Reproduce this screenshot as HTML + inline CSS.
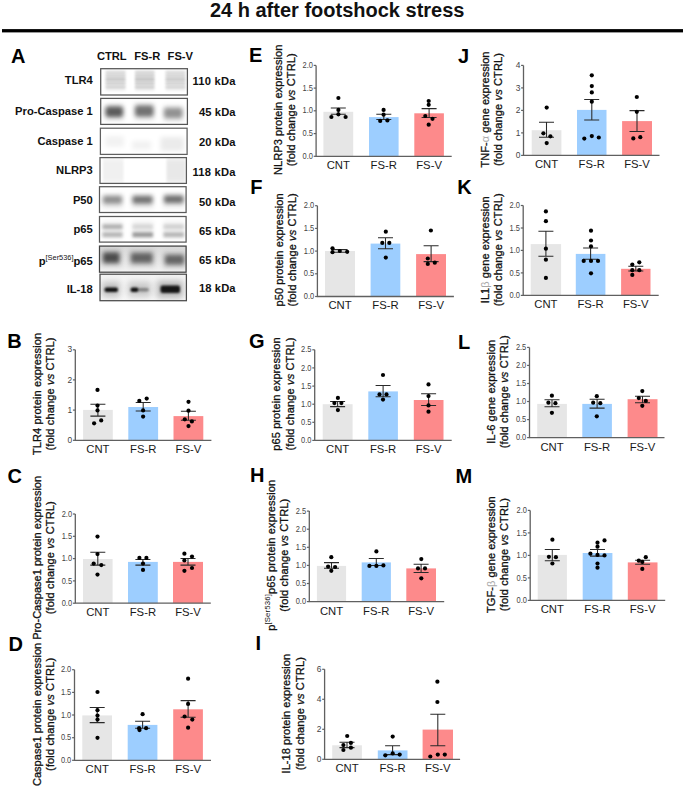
<!DOCTYPE html><html><head><meta charset="utf-8"><style>html,body{margin:0;padding:0;background:#fff;}svg{display:block;}</style></head><body>
<svg width="685" height="788" viewBox="0 0 685 788" font-family="'Liberation Sans', sans-serif">
<rect width="685" height="788" fill="#fff"/>
<text x="337.2" y="17" font-size="20" font-weight="bold" fill="#111" text-anchor="middle">24 h after footshock stress</text>
<rect x="2" y="29.1" width="681" height="3.3" fill="#000"/>
<text x="10.9" y="62.6" font-size="20" font-weight="bold" fill="#000">A</text>
<text x="7.3" y="348.0" font-size="20" font-weight="bold" fill="#000">B</text>
<text x="7.4" y="482.6" font-size="20" font-weight="bold" fill="#000">C</text>
<text x="8.4" y="650.6" font-size="20" font-weight="bold" fill="#000">D</text>
<text x="249.0" y="61.6" font-size="20" font-weight="bold" fill="#000">E</text>
<text x="250.2" y="194.0" font-size="20" font-weight="bold" fill="#000">F</text>
<text x="249.1" y="347.9" font-size="20" font-weight="bold" fill="#000">G</text>
<text x="249.9" y="482.1" font-size="20" font-weight="bold" fill="#000">H</text>
<text x="255.4" y="650.1" font-size="20" font-weight="bold" fill="#000">I</text>
<text x="458.0" y="62.7" font-size="20" font-weight="bold" fill="#000">J</text>
<text x="457.2" y="193.6" font-size="20" font-weight="bold" fill="#000">K</text>
<text x="458.0" y="348.7" font-size="20" font-weight="bold" fill="#000">L</text>
<text x="455.6" y="482.9" font-size="20" font-weight="bold" fill="#000">M</text>
<defs><filter id="b1" x="-50%" y="-50%" width="200%" height="200%"><feGaussianBlur stdDeviation="1.6"/></filter><filter id="b15" x="-50%" y="-50%" width="200%" height="200%"><feGaussianBlur stdDeviation="1.9"/></filter><filter id="b2" x="-50%" y="-50%" width="200%" height="200%"><feGaussianBlur stdDeviation="2.4"/></filter><filter id="b3" x="-50%" y="-50%" width="200%" height="200%"><feGaussianBlur stdDeviation="0.9"/></filter><filter id="b4" x="-50%" y="-50%" width="200%" height="200%"><feGaussianBlur stdDeviation="3"/></filter><filter id="bx" x="-50%" y="-50%" width="200%" height="200%"><feGaussianBlur stdDeviation="1.0 3"/></filter><linearGradient id="gser" x1="0" y1="0" x2="0" y2="1"><stop offset="0" stop-color="#d9d9d9"/><stop offset="0.55" stop-color="#e6e6e6"/><stop offset="1" stop-color="#f4f4f4"/></linearGradient><linearGradient id="gil" x1="0" y1="0" x2="0" y2="1"><stop offset="0" stop-color="#f3f3f3"/><stop offset="1" stop-color="#f8f8f8"/></linearGradient></defs>
<text x="111.8" y="59.8" font-size="11.2" font-weight="bold" fill="#111" text-anchor="middle">CTRL</text>
<text x="147.2" y="59.8" font-size="11.2" font-weight="bold" fill="#111" text-anchor="middle">FS-R</text>
<text x="180.3" y="59.8" font-size="11.2" font-weight="bold" fill="#111" text-anchor="middle">FS-V</text>
<svg x="100.1" y="68.1" width="87.9" height="27.5" viewBox="100.1 68.1 87.9 27.5" overflow="hidden"><rect x="105.5" y="70.5" width="20.0" height="20.0" rx="0" fill="#000" opacity="0.09" filter="url(#b1)"/><rect x="105.5" y="71.4" width="20.0" height="2.2" rx="0" fill="#000" opacity="0.08" filter="url(#b3)"/><rect x="105.5" y="74.9" width="20.0" height="2.2" rx="0" fill="#000" opacity="0.11" filter="url(#b3)"/><rect x="105.5" y="78.4" width="20.0" height="2.2" rx="0" fill="#000" opacity="0.18" filter="url(#b3)"/><rect x="105.5" y="82.1" width="20.0" height="2.2" rx="0" fill="#000" opacity="0.12" filter="url(#b3)"/><rect x="105.5" y="85.9" width="20.0" height="2.2" rx="0" fill="#000" opacity="0.1" filter="url(#b3)"/><rect x="135.0" y="70.5" width="19.5" height="20.0" rx="0" fill="#000" opacity="0.099" filter="url(#b1)"/><rect x="135.0" y="71.4" width="19.5" height="2.2" rx="0" fill="#000" opacity="0.08800000000000001" filter="url(#b3)"/><rect x="135.0" y="74.9" width="19.5" height="2.2" rx="0" fill="#000" opacity="0.12100000000000001" filter="url(#b3)"/><rect x="135.0" y="78.4" width="19.5" height="2.2" rx="0" fill="#000" opacity="0.198" filter="url(#b3)"/><rect x="135.0" y="82.1" width="19.5" height="2.2" rx="0" fill="#000" opacity="0.132" filter="url(#b3)"/><rect x="135.0" y="85.9" width="19.5" height="2.2" rx="0" fill="#000" opacity="0.11000000000000001" filter="url(#b3)"/><rect x="165.5" y="70.5" width="20.0" height="20.0" rx="0" fill="#000" opacity="0.08549999999999999" filter="url(#b1)"/><rect x="165.5" y="71.4" width="20.0" height="2.2" rx="0" fill="#000" opacity="0.076" filter="url(#b3)"/><rect x="165.5" y="74.9" width="20.0" height="2.2" rx="0" fill="#000" opacity="0.1045" filter="url(#b3)"/><rect x="165.5" y="78.4" width="20.0" height="2.2" rx="0" fill="#000" opacity="0.17099999999999999" filter="url(#b3)"/><rect x="165.5" y="82.1" width="20.0" height="2.2" rx="0" fill="#000" opacity="0.11399999999999999" filter="url(#b3)"/><rect x="165.5" y="85.9" width="20.0" height="2.2" rx="0" fill="#000" opacity="0.095" filter="url(#b3)"/></svg>
<rect x="100.7" y="68.7" width="86.7" height="26.3" fill="none" stroke="#555" stroke-width="1.25"/>
<text x="92.8" y="84.1" font-size="11.2" font-weight="bold" fill="#111" text-anchor="end">TLR4</text>
<text x="235.6" y="85.4" font-size="11.2" font-weight="bold" fill="#111" text-anchor="end" textLength="43.1" lengthAdjust="spacing">110 kDa</text>
<svg x="100.1" y="97.8" width="87.9" height="27.200000000000003" viewBox="100.1 97.8 87.9 27.200000000000003" overflow="hidden"><rect x="104.5" y="104.0" width="19.5" height="16.5" rx="0" fill="#000" opacity="0.1" filter="url(#b2)"/><rect x="105.5" y="106.5" width="17.5" height="10.5" rx="3" fill="#000" opacity="0.6" filter="url(#b15)"/><rect x="134.0" y="103.0" width="20.5" height="17.0" rx="0" fill="#000" opacity="0.1" filter="url(#b2)"/><rect x="135.0" y="105.5" width="18.5" height="11.0" rx="3" fill="#000" opacity="0.5" filter="url(#b15)"/><rect x="163.0" y="105.5" width="20.5" height="16.0" rx="0" fill="#000" opacity="0.1" filter="url(#b2)"/><rect x="164.0" y="108.0" width="18.5" height="10.0" rx="3" fill="#000" opacity="0.36" filter="url(#b15)"/></svg>
<rect x="100.7" y="98.4" width="86.7" height="26.0" fill="none" stroke="#555" stroke-width="1.25"/>
<text x="92.8" y="114.6" font-size="11.2" font-weight="bold" fill="#111" text-anchor="end">Pro-Caspase 1</text>
<text x="235.6" y="115.9" font-size="11.2" font-weight="bold" fill="#111" text-anchor="end" textLength="36.7" lengthAdjust="spacing">45 kDa</text>
<svg x="99.8" y="127.6" width="87.89999999999999" height="27.400000000000006" viewBox="99.8 127.6 87.89999999999999 27.400000000000006" overflow="hidden"><rect x="105.0" y="136.0" width="19.0" height="11.0" rx="0" fill="#000" opacity="0.05" filter="url(#b2)"/><rect x="132.0" y="141.0" width="19.0" height="8.5" rx="0" fill="#000" opacity="0.055" filter="url(#b2)"/><rect x="160.5" y="137.0" width="23.5" height="14.0" rx="0" fill="#000" opacity="0.08" filter="url(#b2)"/></svg>
<rect x="100.4" y="128.2" width="86.7" height="26.2" fill="none" stroke="#606060" stroke-width="1.25"/>
<text x="92.8" y="144.8" font-size="11.2" font-weight="bold" fill="#111" text-anchor="end">Caspase 1</text>
<text x="235.6" y="145.9" font-size="11.2" font-weight="bold" fill="#111" text-anchor="end" textLength="36.7" lengthAdjust="spacing">20 kDa</text>
<svg x="99.4" y="157.0" width="87.6" height="27.0" viewBox="99.4 157.0 87.6 27.0" overflow="hidden"><rect x="103.0" y="158.0" width="20.5" height="25.0" rx="0" fill="#000" opacity="0.06" filter="url(#bx)"/><rect x="166.5" y="158.0" width="19.0" height="25.0" rx="0" fill="#000" opacity="0.09" filter="url(#bx)"/></svg>
<rect x="100.0" y="157.6" width="86.4" height="25.8" fill="none" stroke="#5a5a5a" stroke-width="1.25"/>
<text x="92.8" y="174.0" font-size="11.2" font-weight="bold" fill="#111" text-anchor="end">NLRP3</text>
<text x="235.6" y="175.9" font-size="11.2" font-weight="bold" fill="#111" text-anchor="end" textLength="43.1" lengthAdjust="spacing">118 kDa</text>
<svg x="98.9" y="186.1" width="87.79999999999998" height="27.0" viewBox="98.9 186.1 87.79999999999998 27.0" overflow="hidden"><rect x="102.0" y="194.0" width="21.0" height="14.0" rx="0" fill="#000" opacity="0.1" filter="url(#b2)"/><rect x="103.0" y="196.0" width="19.0" height="7.5" rx="2" fill="#000" opacity="0.38" filter="url(#b15)"/><rect x="131.5" y="194.0" width="22.0" height="14.0" rx="0" fill="#000" opacity="0.1" filter="url(#b2)"/><rect x="132.5" y="196.0" width="20.0" height="7.5" rx="2" fill="#000" opacity="0.5" filter="url(#b15)"/><rect x="163.0" y="193.5" width="21.5" height="14.0" rx="0" fill="#000" opacity="0.1" filter="url(#b2)"/><rect x="164.0" y="195.5" width="19.5" height="7.5" rx="2" fill="#000" opacity="0.52" filter="url(#b15)"/></svg>
<rect x="99.5" y="186.7" width="86.6" height="25.8" fill="none" stroke="#5a5a5a" stroke-width="1.25"/>
<text x="92.8" y="203.8" font-size="11.2" font-weight="bold" fill="#111" text-anchor="end">P50</text>
<text x="235.6" y="206.4" font-size="11.2" font-weight="bold" fill="#111" text-anchor="end" textLength="36.7" lengthAdjust="spacing">50 kDa</text>
<svg x="98.9" y="215.9" width="87.79999999999998" height="26.799999999999983" viewBox="98.9 215.9 87.79999999999998 26.799999999999983" overflow="hidden"><rect x="102.0" y="221.0" width="21.0" height="18.0" rx="0" fill="#000" opacity="0.06" filter="url(#b2)"/><rect x="102.5" y="224.3" width="20.0" height="4.8" rx="0" fill="#000" opacity="0.26" filter="url(#b1)"/><rect x="102.5" y="232.3" width="20.0" height="4.8" rx="0" fill="#000" opacity="0.24" filter="url(#b1)"/><rect x="132.0" y="221.0" width="21.5" height="18.0" rx="0" fill="#000" opacity="0.06" filter="url(#b2)"/><rect x="132.5" y="224.3" width="20.5" height="4.8" rx="0" fill="#000" opacity="0.1" filter="url(#b1)"/><rect x="132.5" y="232.3" width="20.5" height="4.8" rx="0" fill="#000" opacity="0.36" filter="url(#b1)"/><rect x="163.0" y="221.0" width="21.5" height="18.0" rx="0" fill="#000" opacity="0.06" filter="url(#b2)"/><rect x="163.5" y="224.3" width="20.5" height="4.8" rx="0" fill="#000" opacity="0.12" filter="url(#b1)"/><rect x="163.5" y="232.3" width="20.5" height="4.8" rx="0" fill="#000" opacity="0.24" filter="url(#b1)"/></svg>
<rect x="99.5" y="216.5" width="86.6" height="25.6" fill="none" stroke="#5a5a5a" stroke-width="1.25"/>
<text x="92.8" y="233.2" font-size="11.2" font-weight="bold" fill="#111" text-anchor="end">p65</text>
<text x="235.6" y="235.1" font-size="11.2" font-weight="bold" fill="#111" text-anchor="end" textLength="36.7" lengthAdjust="spacing">65 kDa</text>
<svg x="98.9" y="245.5" width="87.79999999999998" height="27.30000000000001" viewBox="98.9 245.5 87.79999999999998 27.30000000000001" overflow="hidden"><rect x="98.9" y="245.5" width="87.79999999999998" height="27.30000000000001" fill="url(#gser)"/><rect x="101.0" y="249.5" width="20.5" height="17.5" rx="0" fill="#000" opacity="0.12" filter="url(#b2)"/><rect x="103.0" y="252.5" width="16.5" height="10.5" rx="2" fill="#000" opacity="0.62" filter="url(#b15)"/><rect x="129.0" y="250.0" width="25.5" height="17.0" rx="0" fill="#000" opacity="0.12" filter="url(#b2)"/><rect x="131.0" y="253.0" width="21.5" height="10.0" rx="2" fill="#000" opacity="0.5" filter="url(#b15)"/><rect x="163.0" y="252.0" width="23.0" height="16.5" rx="0" fill="#000" opacity="0.12" filter="url(#b2)"/><rect x="165.0" y="255.0" width="19.0" height="9.5" rx="2" fill="#000" opacity="0.5" filter="url(#b15)"/></svg>
<rect x="99.5" y="246.1" width="86.6" height="26.1" fill="none" stroke="#444" stroke-width="1.25"/>
<text x="92.8" y="264.7" font-size="11.2" font-weight="bold" fill="#111" text-anchor="end">p<tspan font-size="7.4" font-weight="normal" dy="-5">[Ser536]</tspan><tspan dy="5">p65</tspan></text>
<text x="235.6" y="263.6" font-size="11.2" font-weight="bold" fill="#111" text-anchor="end" textLength="36.7" lengthAdjust="spacing">65 kDa</text>
<svg x="99.4" y="273.6" width="87.6" height="27.69999999999999" viewBox="99.4 273.6 87.6 27.69999999999999" overflow="hidden"><rect x="99.4" y="273.6" width="87.6" height="27.69999999999999" fill="url(#gil)"/><rect x="102.0" y="282.0" width="18.0" height="15.0" rx="0" fill="#000" opacity="0.22" filter="url(#b4)"/><rect x="128.0" y="282.0" width="23.0" height="15.0" rx="0" fill="#000" opacity="0.18" filter="url(#b4)"/><rect x="157.0" y="281.0" width="26.0" height="17.0" rx="0" fill="#000" opacity="0.26" filter="url(#b4)"/><rect x="104.5" y="287.4" width="13.5" height="4.6" rx="2" fill="#000" opacity="0.92" filter="url(#b3)"/><rect x="130.5" y="287.4" width="8.0" height="4.6" rx="2" fill="#000" opacity="0.92" filter="url(#b3)"/><rect x="138.0" y="288.0" width="11.0" height="3.5" rx="2" fill="#000" opacity="0.35" filter="url(#b3)"/><rect x="160.5" y="285.5" width="19.5" height="7.5" rx="2" fill="#000" opacity="0.88" filter="url(#b3)"/></svg>
<rect x="100.0" y="274.2" width="86.4" height="26.5" fill="none" stroke="#4a4a4a" stroke-width="1.25"/>
<text x="92.8" y="293.1" font-size="11.2" font-weight="bold" fill="#111" text-anchor="end">IL-18</text>
<text x="235.6" y="292.2" font-size="11.2" font-weight="bold" fill="#111" text-anchor="end" textLength="36.7" lengthAdjust="spacing">18 kDa</text>
<rect x="83.1" y="409.9" width="29.7" height="30.4" fill="#e6e6e6"/>
<rect x="128.3" y="407.0" width="29.8" height="33.3" fill="#9dceff"/>
<rect x="173.5" y="416.1" width="29.8" height="24.2" fill="#fd8a8b"/>
<path d="M75.3,349.8V440.3H211.4" fill="none" stroke="#606060" stroke-width="1.3"/>
<path d="M72.9,440.3H75.3" stroke="#606060" stroke-width="1.2"/>
<text x="72.1" y="442.9" font-size="8.4" fill="#444" text-anchor="end">0</text>
<path d="M72.9,410.1H75.3" stroke="#606060" stroke-width="1.2"/>
<text x="72.1" y="412.7" font-size="8.4" fill="#444" text-anchor="end">1</text>
<path d="M72.9,379.9H75.3" stroke="#606060" stroke-width="1.2"/>
<text x="72.1" y="382.5" font-size="8.4" fill="#444" text-anchor="end">2</text>
<path d="M72.9,349.8H75.3" stroke="#606060" stroke-width="1.2"/>
<text x="72.1" y="352.4" font-size="8.4" fill="#444" text-anchor="end">3</text>
<path d="M90.4,404.3H105.4M97.9,404.3V416.1M90.4,416.1H105.4" stroke="#2a2a2a" stroke-width="1.05" fill="none"/>
<circle cx="97.5" cy="389.9" r="2.1" fill="#000"/>
<circle cx="97.5" cy="405.6" r="2.1" fill="#000"/>
<circle cx="97.5" cy="410.4" r="2.1" fill="#000"/>
<circle cx="101.2" cy="420.4" r="2.1" fill="#000"/>
<circle cx="94.1" cy="423.3" r="2.1" fill="#000"/>
<path d="M135.7,402.4H150.7M143.2,402.4V410.9M135.7,410.9H150.7" stroke="#2a2a2a" stroke-width="1.05" fill="none"/>
<circle cx="139.3" cy="400.9" r="2.1" fill="#000"/>
<circle cx="146.7" cy="398.6" r="2.1" fill="#000"/>
<circle cx="143.1" cy="410.4" r="2.1" fill="#000"/>
<circle cx="143.1" cy="416.6" r="2.1" fill="#000"/>
<path d="M180.9,411.3H195.9M188.4,411.3V420.2M180.9,420.2H195.9" stroke="#2a2a2a" stroke-width="1.05" fill="none"/>
<circle cx="188.5" cy="401.8" r="2.1" fill="#000"/>
<circle cx="188.5" cy="410.7" r="2.1" fill="#000"/>
<circle cx="184.8" cy="419.3" r="2.1" fill="#000"/>
<circle cx="191.9" cy="421.4" r="2.1" fill="#000"/>
<circle cx="188.5" cy="426.1" r="2.1" fill="#000"/>
<text x="97.9" y="453.2" font-size="11.3" fill="#1a1a1a" text-anchor="middle">CNT</text>
<text x="143.2" y="453.2" font-size="11.3" fill="#1a1a1a" text-anchor="middle">FS-R</text>
<text x="188.4" y="453.2" font-size="11.3" fill="#1a1a1a" text-anchor="middle">FS-V</text>
<text transform="translate(40.7,394.0) rotate(-90)" font-size="11" fill="#111" stroke="#111" stroke-width="0.3" text-anchor="middle" textLength="122.2" lengthAdjust="spacing">TLR4 protein expression</text>
<text transform="translate(54.2,394.0) rotate(-90)" font-size="11" fill="#111" stroke="#111" stroke-width="0.3" text-anchor="middle" textLength="113.1" lengthAdjust="spacing">(fold change <tspan font-style="italic">vs</tspan> CTRL)</text>
<rect x="83.0" y="559.0" width="29.6" height="44.2" fill="#e6e6e6"/>
<rect x="128.0" y="561.9" width="29.8" height="41.3" fill="#9dceff"/>
<rect x="173.0" y="561.9" width="30.0" height="41.3" fill="#fd8a8b"/>
<path d="M75.3,514.0V603.2H210.8" fill="none" stroke="#606060" stroke-width="1.3"/>
<path d="M72.9,603.2H75.3" stroke="#606060" stroke-width="1.2"/>
<text x="72.1" y="605.8" font-size="8.4" fill="#444" text-anchor="end" textLength="10.4" lengthAdjust="spacingAndGlyphs">0.0</text>
<path d="M72.9,580.9H75.3" stroke="#606060" stroke-width="1.2"/>
<text x="72.1" y="583.5" font-size="8.4" fill="#444" text-anchor="end" textLength="10.4" lengthAdjust="spacingAndGlyphs">0.5</text>
<path d="M72.9,558.6H75.3" stroke="#606060" stroke-width="1.2"/>
<text x="72.1" y="561.2" font-size="8.4" fill="#444" text-anchor="end" textLength="10.4" lengthAdjust="spacingAndGlyphs">1.0</text>
<path d="M72.9,536.3H75.3" stroke="#606060" stroke-width="1.2"/>
<text x="72.1" y="538.9" font-size="8.4" fill="#444" text-anchor="end" textLength="10.4" lengthAdjust="spacingAndGlyphs">1.5</text>
<path d="M72.9,514.0H75.3" stroke="#606060" stroke-width="1.2"/>
<text x="72.1" y="516.6" font-size="8.4" fill="#444" text-anchor="end" textLength="10.4" lengthAdjust="spacingAndGlyphs">2.0</text>
<path d="M90.3,552.2H105.3M97.8,552.2V565.1M90.3,565.1H105.3" stroke="#2a2a2a" stroke-width="1.05" fill="none"/>
<circle cx="97.5" cy="536.6" r="2.1" fill="#000"/>
<circle cx="97.5" cy="554.1" r="2.1" fill="#000"/>
<circle cx="93.7" cy="563.6" r="2.1" fill="#000"/>
<circle cx="101.3" cy="565.1" r="2.1" fill="#000"/>
<circle cx="97.5" cy="574.6" r="2.1" fill="#000"/>
<path d="M135.4,559.4H150.4M142.9,559.4V565.1M135.4,565.1H150.4" stroke="#2a2a2a" stroke-width="1.05" fill="none"/>
<circle cx="139.4" cy="557.9" r="2.1" fill="#000"/>
<circle cx="146.4" cy="557.9" r="2.1" fill="#000"/>
<circle cx="143.0" cy="563.6" r="2.1" fill="#000"/>
<circle cx="143.0" cy="569.9" r="2.1" fill="#000"/>
<path d="M180.5,558.5H195.5M188.0,558.5V565.1M180.5,565.1H195.5" stroke="#2a2a2a" stroke-width="1.05" fill="none"/>
<circle cx="184.4" cy="553.7" r="2.1" fill="#000"/>
<circle cx="192.0" cy="556.6" r="2.1" fill="#000"/>
<circle cx="184.4" cy="560.4" r="2.1" fill="#000"/>
<circle cx="192.0" cy="568.0" r="2.1" fill="#000"/>
<circle cx="184.4" cy="570.8" r="2.1" fill="#000"/>
<text x="97.8" y="616.1" font-size="11.3" fill="#1a1a1a" text-anchor="middle">CNT</text>
<text x="142.9" y="616.1" font-size="11.3" fill="#1a1a1a" text-anchor="middle">FS-R</text>
<text x="188.0" y="616.1" font-size="11.3" fill="#1a1a1a" text-anchor="middle">FS-V</text>
<text transform="translate(40.7,557.8) rotate(-90)" font-size="11" fill="#111" stroke="#111" stroke-width="0.3" text-anchor="middle" textLength="163.9" lengthAdjust="spacing">Pro-Caspase1 protein expression</text>
<text transform="translate(54.2,557.8) rotate(-90)" font-size="11" fill="#111" stroke="#111" stroke-width="0.3" text-anchor="middle" textLength="113.1" lengthAdjust="spacing">(fold change <tspan font-style="italic">vs</tspan> CTRL)</text>
<rect x="82.3" y="715.4" width="29.7" height="44.9" fill="#e6e6e6"/>
<rect x="127.7" y="724.9" width="29.7" height="35.4" fill="#9dceff"/>
<rect x="173.2" y="709.3" width="29.7" height="51.0" fill="#fd8a8b"/>
<path d="M74.5,669.7V760.3H211.0" fill="none" stroke="#606060" stroke-width="1.3"/>
<path d="M72.1,760.3H74.5" stroke="#606060" stroke-width="1.2"/>
<text x="71.3" y="762.9" font-size="8.4" fill="#444" text-anchor="end" textLength="10.4" lengthAdjust="spacingAndGlyphs">0.0</text>
<path d="M72.1,737.7H74.5" stroke="#606060" stroke-width="1.2"/>
<text x="71.3" y="740.3" font-size="8.4" fill="#444" text-anchor="end" textLength="10.4" lengthAdjust="spacingAndGlyphs">0.5</text>
<path d="M72.1,715.0H74.5" stroke="#606060" stroke-width="1.2"/>
<text x="71.3" y="717.6" font-size="8.4" fill="#444" text-anchor="end" textLength="10.4" lengthAdjust="spacingAndGlyphs">1.0</text>
<path d="M72.1,692.4H74.5" stroke="#606060" stroke-width="1.2"/>
<text x="71.3" y="695.0" font-size="8.4" fill="#444" text-anchor="end" textLength="10.4" lengthAdjust="spacingAndGlyphs">1.5</text>
<path d="M72.1,669.7H74.5" stroke="#606060" stroke-width="1.2"/>
<text x="71.3" y="672.3" font-size="8.4" fill="#444" text-anchor="end" textLength="10.4" lengthAdjust="spacingAndGlyphs">2.0</text>
<path d="M89.7,707.4H104.7M97.2,707.4V722.6M89.7,722.6H104.7" stroke="#2a2a2a" stroke-width="1.05" fill="none"/>
<circle cx="97.5" cy="692.0" r="2.1" fill="#000"/>
<circle cx="97.5" cy="710.2" r="2.1" fill="#000"/>
<circle cx="97.5" cy="715.6" r="2.1" fill="#000"/>
<circle cx="97.5" cy="719.6" r="2.1" fill="#000"/>
<circle cx="97.5" cy="737.8" r="2.1" fill="#000"/>
<path d="M135.1,721.2H150.1M142.6,721.2V728.2M135.1,728.2H150.1" stroke="#2a2a2a" stroke-width="1.05" fill="none"/>
<circle cx="142.6" cy="714.2" r="2.1" fill="#000"/>
<circle cx="139.1" cy="728.2" r="2.1" fill="#000"/>
<circle cx="146.1" cy="728.2" r="2.1" fill="#000"/>
<circle cx="139.5" cy="730.1" r="2.1" fill="#000"/>
<path d="M180.6,700.6H195.6M188.1,700.6V717.2M180.6,717.2H195.6" stroke="#2a2a2a" stroke-width="1.05" fill="none"/>
<circle cx="188.1" cy="678.7" r="2.1" fill="#000"/>
<circle cx="188.1" cy="703.9" r="2.1" fill="#000"/>
<circle cx="184.6" cy="716.5" r="2.1" fill="#000"/>
<circle cx="192.3" cy="719.6" r="2.1" fill="#000"/>
<circle cx="188.1" cy="727.7" r="2.1" fill="#000"/>
<text x="97.2" y="773.2" font-size="11.3" fill="#1a1a1a" text-anchor="middle">CNT</text>
<text x="142.6" y="773.2" font-size="11.3" fill="#1a1a1a" text-anchor="middle">FS-R</text>
<text x="188.1" y="773.2" font-size="11.3" fill="#1a1a1a" text-anchor="middle">FS-V</text>
<text transform="translate(40.7,714.4) rotate(-90)" font-size="11" fill="#111" stroke="#111" stroke-width="0.3" text-anchor="middle" textLength="143.3" lengthAdjust="spacing">Caspase1 protein expression</text>
<text transform="translate(54.2,714.4) rotate(-90)" font-size="11" fill="#111" stroke="#111" stroke-width="0.3" text-anchor="middle" textLength="113.1" lengthAdjust="spacing">(fold change <tspan font-style="italic">vs</tspan> CTRL)</text>
<rect x="323.4" y="111.8" width="29.8" height="44.5" fill="#e6e6e6"/>
<rect x="369.0" y="117.1" width="29.6" height="39.2" fill="#9dceff"/>
<rect x="414.3" y="113.3" width="29.6" height="43.0" fill="#fd8a8b"/>
<path d="M316.1,65.4V156.3H451.7" fill="none" stroke="#606060" stroke-width="1.3"/>
<path d="M313.7,156.3H316.1" stroke="#606060" stroke-width="1.2"/>
<text x="312.9" y="158.9" font-size="8.4" fill="#444" text-anchor="end" textLength="10.4" lengthAdjust="spacingAndGlyphs">0.0</text>
<path d="M313.7,133.6H316.1" stroke="#606060" stroke-width="1.2"/>
<text x="312.9" y="136.2" font-size="8.4" fill="#444" text-anchor="end" textLength="10.4" lengthAdjust="spacingAndGlyphs">0.5</text>
<path d="M313.7,110.8H316.1" stroke="#606060" stroke-width="1.2"/>
<text x="312.9" y="113.4" font-size="8.4" fill="#444" text-anchor="end" textLength="10.4" lengthAdjust="spacingAndGlyphs">1.0</text>
<path d="M313.7,88.1H316.1" stroke="#606060" stroke-width="1.2"/>
<text x="312.9" y="90.7" font-size="8.4" fill="#444" text-anchor="end" textLength="10.4" lengthAdjust="spacingAndGlyphs">1.5</text>
<path d="M313.7,65.4H316.1" stroke="#606060" stroke-width="1.2"/>
<text x="312.9" y="68.0" font-size="8.4" fill="#444" text-anchor="end" textLength="10.4" lengthAdjust="spacingAndGlyphs">2.0</text>
<path d="M330.8,108.0H345.8M338.3,108.0V114.3M330.8,114.3H345.8" stroke="#2a2a2a" stroke-width="1.05" fill="none"/>
<circle cx="338.4" cy="98.0" r="2.1" fill="#000"/>
<circle cx="338.4" cy="109.9" r="2.1" fill="#000"/>
<circle cx="338.4" cy="114.3" r="2.1" fill="#000"/>
<circle cx="331.4" cy="117.0" r="2.1" fill="#000"/>
<circle cx="345.6" cy="117.0" r="2.1" fill="#000"/>
<path d="M376.3,114.3H391.3M383.8,114.3V119.4M376.3,119.4H391.3" stroke="#2a2a2a" stroke-width="1.05" fill="none"/>
<circle cx="383.6" cy="109.9" r="2.1" fill="#000"/>
<circle cx="383.6" cy="114.7" r="2.1" fill="#000"/>
<circle cx="380.2" cy="120.9" r="2.1" fill="#000"/>
<circle cx="387.4" cy="120.4" r="2.1" fill="#000"/>
<path d="M421.6,108.6H436.6M429.1,108.6V117.5M421.6,117.5H436.6" stroke="#2a2a2a" stroke-width="1.05" fill="none"/>
<circle cx="428.7" cy="101.0" r="2.1" fill="#000"/>
<circle cx="428.7" cy="104.8" r="2.1" fill="#000"/>
<circle cx="425.3" cy="116.0" r="2.1" fill="#000"/>
<circle cx="432.5" cy="118.8" r="2.1" fill="#000"/>
<circle cx="428.7" cy="124.7" r="2.1" fill="#000"/>
<text x="338.3" y="169.2" font-size="11.3" fill="#1a1a1a" text-anchor="middle">CNT</text>
<text x="383.8" y="169.2" font-size="11.3" fill="#1a1a1a" text-anchor="middle">FS-R</text>
<text x="429.1" y="169.2" font-size="11.3" fill="#1a1a1a" text-anchor="middle">FS-V</text>
<text transform="translate(281.6,109.8) rotate(-90)" font-size="11" fill="#111" stroke="#111" stroke-width="0.3" text-anchor="middle" textLength="130.3" lengthAdjust="spacing">NLRP3 protein expression</text>
<text transform="translate(295.1,109.8) rotate(-90)" font-size="11" fill="#111" stroke="#111" stroke-width="0.3" text-anchor="middle" textLength="113.1" lengthAdjust="spacing">(fold change <tspan font-style="italic">vs</tspan> CTRL)</text>
<rect x="325.0" y="251.0" width="30.0" height="45.5" fill="#e6e6e6"/>
<rect x="370.6" y="243.6" width="29.7" height="52.9" fill="#9dceff"/>
<rect x="416.1" y="254.1" width="29.9" height="42.4" fill="#fd8a8b"/>
<path d="M317.4,205.7V296.5H453.9" fill="none" stroke="#606060" stroke-width="1.3"/>
<path d="M315.1,296.5H317.4" stroke="#606060" stroke-width="1.2"/>
<text x="314.2" y="299.1" font-size="8.4" fill="#444" text-anchor="end" textLength="10.4" lengthAdjust="spacingAndGlyphs">0.0</text>
<path d="M315.1,273.8H317.4" stroke="#606060" stroke-width="1.2"/>
<text x="314.2" y="276.4" font-size="8.4" fill="#444" text-anchor="end" textLength="10.4" lengthAdjust="spacingAndGlyphs">0.5</text>
<path d="M315.1,251.1H317.4" stroke="#606060" stroke-width="1.2"/>
<text x="314.2" y="253.7" font-size="8.4" fill="#444" text-anchor="end" textLength="10.4" lengthAdjust="spacingAndGlyphs">1.0</text>
<path d="M315.1,228.4H317.4" stroke="#606060" stroke-width="1.2"/>
<text x="314.2" y="231.0" font-size="8.4" fill="#444" text-anchor="end" textLength="10.4" lengthAdjust="spacingAndGlyphs">1.5</text>
<path d="M315.1,205.7H317.4" stroke="#606060" stroke-width="1.2"/>
<text x="314.2" y="208.3" font-size="8.4" fill="#444" text-anchor="end" textLength="10.4" lengthAdjust="spacingAndGlyphs">2.0</text>
<path d="M332.5,249.6H347.5M340.0,249.6V252.2M332.5,252.2H347.5" stroke="#2a2a2a" stroke-width="1.05" fill="none"/>
<circle cx="332.5" cy="248.3" r="2.1" fill="#000"/>
<circle cx="332.5" cy="252.2" r="2.1" fill="#000"/>
<circle cx="339.8" cy="251.0" r="2.1" fill="#000"/>
<circle cx="347.2" cy="251.8" r="2.1" fill="#000"/>
<path d="M378.0,237.7H393.0M385.5,237.7V248.7M378.0,248.7H393.0" stroke="#2a2a2a" stroke-width="1.05" fill="none"/>
<circle cx="385.8" cy="231.7" r="2.1" fill="#000"/>
<circle cx="382.3" cy="242.9" r="2.1" fill="#000"/>
<circle cx="389.3" cy="242.9" r="2.1" fill="#000"/>
<circle cx="385.8" cy="257.6" r="2.1" fill="#000"/>
<path d="M423.6,245.7H438.6M431.1,245.7V261.6M423.6,261.6H438.6" stroke="#2a2a2a" stroke-width="1.05" fill="none"/>
<circle cx="430.9" cy="230.5" r="2.1" fill="#000"/>
<circle cx="427.8" cy="258.5" r="2.1" fill="#000"/>
<circle cx="427.8" cy="263.9" r="2.1" fill="#000"/>
<circle cx="434.8" cy="262.7" r="2.1" fill="#000"/>
<text x="340.0" y="309.4" font-size="11.3" fill="#1a1a1a" text-anchor="middle">CNT</text>
<text x="385.5" y="309.4" font-size="11.3" fill="#1a1a1a" text-anchor="middle">FS-R</text>
<text x="431.1" y="309.4" font-size="11.3" fill="#1a1a1a" text-anchor="middle">FS-V</text>
<text transform="translate(282.8,249.9) rotate(-90)" font-size="11" fill="#111" stroke="#111" stroke-width="0.3" text-anchor="middle" textLength="113.1" lengthAdjust="spacing">p50 protein expression</text>
<text transform="translate(296.3,249.9) rotate(-90)" font-size="11" fill="#111" stroke="#111" stroke-width="0.3" text-anchor="middle" textLength="113.1" lengthAdjust="spacing">(fold change <tspan font-style="italic">vs</tspan> CTRL)</text>
<rect x="322.7" y="404.2" width="29.9" height="36.2" fill="#e6e6e6"/>
<rect x="368.3" y="391.4" width="29.6" height="49.0" fill="#9dceff"/>
<rect x="413.8" y="400.0" width="29.7" height="40.4" fill="#fd8a8b"/>
<path d="M314.7,349.8V440.4H451.7" fill="none" stroke="#606060" stroke-width="1.3"/>
<path d="M312.3,440.4H314.7" stroke="#606060" stroke-width="1.2"/>
<text x="311.5" y="443.0" font-size="8.4" fill="#444" text-anchor="end" textLength="10.4" lengthAdjust="spacingAndGlyphs">0.0</text>
<path d="M312.3,422.3H314.7" stroke="#606060" stroke-width="1.2"/>
<text x="311.5" y="424.9" font-size="8.4" fill="#444" text-anchor="end" textLength="10.4" lengthAdjust="spacingAndGlyphs">0.5</text>
<path d="M312.3,404.2H314.7" stroke="#606060" stroke-width="1.2"/>
<text x="311.5" y="406.8" font-size="8.4" fill="#444" text-anchor="end" textLength="10.4" lengthAdjust="spacingAndGlyphs">1.0</text>
<path d="M312.3,386.1H314.7" stroke="#606060" stroke-width="1.2"/>
<text x="311.5" y="388.7" font-size="8.4" fill="#444" text-anchor="end" textLength="10.4" lengthAdjust="spacingAndGlyphs">1.5</text>
<path d="M312.3,367.9H314.7" stroke="#606060" stroke-width="1.2"/>
<text x="311.5" y="370.5" font-size="8.4" fill="#444" text-anchor="end" textLength="10.4" lengthAdjust="spacingAndGlyphs">2.0</text>
<path d="M312.3,349.8H314.7" stroke="#606060" stroke-width="1.2"/>
<text x="311.5" y="352.4" font-size="8.4" fill="#444" text-anchor="end" textLength="10.4" lengthAdjust="spacingAndGlyphs">2.5</text>
<path d="M330.1,401.4H345.1M337.6,401.4V406.6M330.1,406.6H345.1" stroke="#2a2a2a" stroke-width="1.05" fill="none"/>
<circle cx="337.9" cy="397.9" r="2.1" fill="#000"/>
<circle cx="334.4" cy="403.1" r="2.1" fill="#000"/>
<circle cx="341.4" cy="403.1" r="2.1" fill="#000"/>
<circle cx="337.9" cy="410.1" r="2.1" fill="#000"/>
<path d="M375.6,385.5H390.6M383.1,385.5V396.8M375.6,396.8H390.6" stroke="#2a2a2a" stroke-width="1.05" fill="none"/>
<circle cx="383.0" cy="375.0" r="2.1" fill="#000"/>
<circle cx="379.5" cy="394.4" r="2.1" fill="#000"/>
<circle cx="386.5" cy="394.4" r="2.1" fill="#000"/>
<circle cx="383.0" cy="399.6" r="2.1" fill="#000"/>
<path d="M421.1,393.7H436.1M428.6,393.7V405.4M421.1,405.4H436.1" stroke="#2a2a2a" stroke-width="1.05" fill="none"/>
<circle cx="428.5" cy="384.4" r="2.1" fill="#000"/>
<circle cx="428.5" cy="396.1" r="2.1" fill="#000"/>
<circle cx="428.5" cy="405.4" r="2.1" fill="#000"/>
<circle cx="428.5" cy="411.7" r="2.1" fill="#000"/>
<text x="337.6" y="453.3" font-size="11.3" fill="#1a1a1a" text-anchor="middle">CNT</text>
<text x="383.1" y="453.3" font-size="11.3" fill="#1a1a1a" text-anchor="middle">FS-R</text>
<text x="428.6" y="453.3" font-size="11.3" fill="#1a1a1a" text-anchor="middle">FS-V</text>
<text transform="translate(280.2,394.0) rotate(-90)" font-size="11" fill="#111" stroke="#111" stroke-width="0.3" text-anchor="middle" textLength="113.3" lengthAdjust="spacing">p65 protein expression</text>
<text transform="translate(293.7,394.0) rotate(-90)" font-size="11" fill="#111" stroke="#111" stroke-width="0.3" text-anchor="middle" textLength="113.1" lengthAdjust="spacing">(fold change <tspan font-style="italic">vs</tspan> CTRL)</text>
<rect x="316.9" y="565.9" width="29.2" height="35.7" fill="#e6e6e6"/>
<rect x="361.7" y="562.4" width="29.2" height="39.2" fill="#9dceff"/>
<rect x="406.3" y="568.4" width="29.7" height="33.2" fill="#fd8a8b"/>
<path d="M309.3,511.1V601.6H444.2" fill="none" stroke="#606060" stroke-width="1.3"/>
<path d="M306.9,601.6H309.3" stroke="#606060" stroke-width="1.2"/>
<text x="306.1" y="604.2" font-size="8.4" fill="#444" text-anchor="end" textLength="10.4" lengthAdjust="spacingAndGlyphs">0.0</text>
<path d="M306.9,583.5H309.3" stroke="#606060" stroke-width="1.2"/>
<text x="306.1" y="586.1" font-size="8.4" fill="#444" text-anchor="end" textLength="10.4" lengthAdjust="spacingAndGlyphs">0.5</text>
<path d="M306.9,565.4H309.3" stroke="#606060" stroke-width="1.2"/>
<text x="306.1" y="568.0" font-size="8.4" fill="#444" text-anchor="end" textLength="10.4" lengthAdjust="spacingAndGlyphs">1.0</text>
<path d="M306.9,547.3H309.3" stroke="#606060" stroke-width="1.2"/>
<text x="306.1" y="549.9" font-size="8.4" fill="#444" text-anchor="end" textLength="10.4" lengthAdjust="spacingAndGlyphs">1.5</text>
<path d="M306.9,529.2H309.3" stroke="#606060" stroke-width="1.2"/>
<text x="306.1" y="531.8" font-size="8.4" fill="#444" text-anchor="end" textLength="10.4" lengthAdjust="spacingAndGlyphs">2.0</text>
<path d="M306.9,511.1H309.3" stroke="#606060" stroke-width="1.2"/>
<text x="306.1" y="513.7" font-size="8.4" fill="#444" text-anchor="end" textLength="10.4" lengthAdjust="spacingAndGlyphs">2.5</text>
<path d="M324.0,562.6H339.0M331.5,562.6V568.2M324.0,568.2H339.0" stroke="#2a2a2a" stroke-width="1.05" fill="none"/>
<circle cx="331.3" cy="557.2" r="2.1" fill="#000"/>
<circle cx="328.1" cy="566.6" r="2.1" fill="#000"/>
<circle cx="335.1" cy="567.0" r="2.1" fill="#000"/>
<circle cx="331.3" cy="570.8" r="2.1" fill="#000"/>
<path d="M368.8,558.4H383.8M376.3,558.4V565.4M368.8,565.4H383.8" stroke="#2a2a2a" stroke-width="1.05" fill="none"/>
<circle cx="376.4" cy="551.4" r="2.1" fill="#000"/>
<circle cx="369.4" cy="565.9" r="2.1" fill="#000"/>
<circle cx="376.4" cy="565.9" r="2.1" fill="#000"/>
<circle cx="383.4" cy="565.4" r="2.1" fill="#000"/>
<path d="M413.6,564.2H428.6M421.1,564.2V572.4M413.6,572.4H428.6" stroke="#2a2a2a" stroke-width="1.05" fill="none"/>
<circle cx="421.3" cy="559.1" r="2.1" fill="#000"/>
<circle cx="418.0" cy="568.4" r="2.1" fill="#000"/>
<circle cx="425.0" cy="568.4" r="2.1" fill="#000"/>
<circle cx="421.3" cy="578.3" r="2.1" fill="#000"/>
<text x="331.5" y="614.5" font-size="11.3" fill="#1a1a1a" text-anchor="middle">CNT</text>
<text x="376.3" y="614.5" font-size="11.3" fill="#1a1a1a" text-anchor="middle">FS-R</text>
<text x="421.1" y="614.5" font-size="11.3" fill="#1a1a1a" text-anchor="middle">FS-V</text>
<text transform="translate(274.7,555.3) rotate(-90)" font-size="11" fill="#111" stroke="#111" stroke-width="0.3" text-anchor="middle" textLength="151.0" lengthAdjust="spacing">p<tspan font-size="7.8" dy="-5" stroke-width="0">[Ser536]</tspan><tspan dy="5">p65 protein expression</tspan></text>
<text transform="translate(288.2,555.3) rotate(-90)" font-size="11" fill="#111" stroke="#111" stroke-width="0.3" text-anchor="middle" textLength="113.1" lengthAdjust="spacing">(fold change <tspan font-style="italic">vs</tspan> CTRL)</text>
<rect x="332.2" y="745.3" width="29.7" height="14.0" fill="#e6e6e6"/>
<rect x="377.8" y="750.4" width="29.7" height="8.9" fill="#9dceff"/>
<rect x="422.6" y="729.6" width="30.4" height="29.7" fill="#fd8a8b"/>
<path d="M324.6,669.3V759.3H460.1" fill="none" stroke="#606060" stroke-width="1.3"/>
<path d="M322.2,759.3H324.6" stroke="#606060" stroke-width="1.2"/>
<text x="321.4" y="761.9" font-size="8.4" fill="#444" text-anchor="end">0</text>
<path d="M322.2,729.3H324.6" stroke="#606060" stroke-width="1.2"/>
<text x="321.4" y="731.9" font-size="8.4" fill="#444" text-anchor="end">2</text>
<path d="M322.2,699.3H324.6" stroke="#606060" stroke-width="1.2"/>
<text x="321.4" y="701.9" font-size="8.4" fill="#444" text-anchor="end">4</text>
<path d="M322.2,669.3H324.6" stroke="#606060" stroke-width="1.2"/>
<text x="321.4" y="671.9" font-size="8.4" fill="#444" text-anchor="end">6</text>
<path d="M339.5,742.2H354.5M347.0,742.2V747.6M339.5,747.6H354.5" stroke="#2a2a2a" stroke-width="1.05" fill="none"/>
<circle cx="347.2" cy="736.0" r="2.1" fill="#000"/>
<circle cx="343.4" cy="745.1" r="2.1" fill="#000"/>
<circle cx="350.9" cy="742.9" r="2.1" fill="#000"/>
<circle cx="343.4" cy="750.0" r="2.1" fill="#000"/>
<circle cx="350.9" cy="747.7" r="2.1" fill="#000"/>
<path d="M385.1,745.7H400.1M392.6,745.7V754.6M385.1,754.6H400.1" stroke="#2a2a2a" stroke-width="1.05" fill="none"/>
<circle cx="392.7" cy="736.6" r="2.1" fill="#000"/>
<circle cx="385.3" cy="755.3" r="2.1" fill="#000"/>
<circle cx="392.7" cy="753.4" r="2.1" fill="#000"/>
<circle cx="399.7" cy="754.6" r="2.1" fill="#000"/>
<path d="M430.3,714.2H445.3M437.8,714.2V745.7M430.3,745.7H445.3" stroke="#2a2a2a" stroke-width="1.05" fill="none"/>
<circle cx="437.4" cy="681.7" r="2.1" fill="#000"/>
<circle cx="437.4" cy="702.0" r="2.1" fill="#000"/>
<circle cx="430.3" cy="756.5" r="2.1" fill="#000"/>
<circle cx="437.8" cy="754.6" r="2.1" fill="#000"/>
<circle cx="444.8" cy="754.6" r="2.1" fill="#000"/>
<text x="347.0" y="772.2" font-size="11.3" fill="#1a1a1a" text-anchor="middle">CNT</text>
<text x="392.6" y="772.2" font-size="11.3" fill="#1a1a1a" text-anchor="middle">FS-R</text>
<text x="437.8" y="772.2" font-size="11.3" fill="#1a1a1a" text-anchor="middle">FS-V</text>
<text transform="translate(290.4,713.7) rotate(-90)" font-size="11" fill="#111" stroke="#111" stroke-width="0.3" text-anchor="middle" textLength="119.6" lengthAdjust="spacing">IL-18 protein expression</text>
<text transform="translate(303.9,713.7) rotate(-90)" font-size="11" fill="#111" stroke="#111" stroke-width="0.3" text-anchor="middle" textLength="113.1" lengthAdjust="spacing">(fold change <tspan font-style="italic">vs</tspan> CTRL)</text>
<rect x="531.7" y="130.2" width="29.7" height="25.2" fill="#e6e6e6"/>
<rect x="577.0" y="109.9" width="29.5" height="45.5" fill="#9dceff"/>
<rect x="622.1" y="121.1" width="29.9" height="34.3" fill="#fd8a8b"/>
<path d="M523.5,65.4V155.4H659.5" fill="none" stroke="#606060" stroke-width="1.3"/>
<path d="M521.1,155.4H523.5" stroke="#606060" stroke-width="1.2"/>
<text x="520.3" y="158.0" font-size="8.4" fill="#444" text-anchor="end">0</text>
<path d="M521.1,132.9H523.5" stroke="#606060" stroke-width="1.2"/>
<text x="520.3" y="135.5" font-size="8.4" fill="#444" text-anchor="end">1</text>
<path d="M521.1,110.4H523.5" stroke="#606060" stroke-width="1.2"/>
<text x="520.3" y="113.0" font-size="8.4" fill="#444" text-anchor="end">2</text>
<path d="M521.1,87.9H523.5" stroke="#606060" stroke-width="1.2"/>
<text x="520.3" y="90.5" font-size="8.4" fill="#444" text-anchor="end">3</text>
<path d="M521.1,65.4H523.5" stroke="#606060" stroke-width="1.2"/>
<text x="520.3" y="68.0" font-size="8.4" fill="#444" text-anchor="end">4</text>
<path d="M539.0,122.3H554.0M546.5,122.3V137.2M539.0,137.2H554.0" stroke="#2a2a2a" stroke-width="1.05" fill="none"/>
<circle cx="546.7" cy="107.6" r="2.1" fill="#000"/>
<circle cx="543.4" cy="133.3" r="2.1" fill="#000"/>
<circle cx="550.4" cy="136.3" r="2.1" fill="#000"/>
<circle cx="546.7" cy="143.1" r="2.1" fill="#000"/>
<path d="M584.2,99.4H599.2M591.8,99.4V119.9M584.2,119.9H599.2" stroke="#2a2a2a" stroke-width="1.05" fill="none"/>
<circle cx="591.8" cy="75.3" r="2.1" fill="#000"/>
<circle cx="591.8" cy="86.1" r="2.1" fill="#000"/>
<circle cx="591.8" cy="92.4" r="2.1" fill="#000"/>
<circle cx="591.8" cy="101.7" r="2.1" fill="#000"/>
<circle cx="584.3" cy="138.6" r="2.1" fill="#000"/>
<circle cx="591.8" cy="136.1" r="2.1" fill="#000"/>
<circle cx="598.8" cy="137.5" r="2.1" fill="#000"/>
<path d="M629.5,110.6H644.5M637.0,110.6V131.4M629.5,131.4H644.5" stroke="#2a2a2a" stroke-width="1.05" fill="none"/>
<circle cx="636.8" cy="97.0" r="2.1" fill="#000"/>
<circle cx="636.8" cy="111.8" r="2.1" fill="#000"/>
<circle cx="633.3" cy="138.4" r="2.1" fill="#000"/>
<circle cx="640.3" cy="137.2" r="2.1" fill="#000"/>
<text x="546.5" y="168.3" font-size="11.3" fill="#1a1a1a" text-anchor="middle">CNT</text>
<text x="591.8" y="168.3" font-size="11.3" fill="#1a1a1a" text-anchor="middle">FS-R</text>
<text x="637.0" y="168.3" font-size="11.3" fill="#1a1a1a" text-anchor="middle">FS-V</text>
<text transform="translate(488.8,109.5) rotate(-90)" font-size="11" fill="#111" stroke="#111" stroke-width="0.3" text-anchor="middle" textLength="116.0" lengthAdjust="spacing">TNF-<tspan fill="#a8a8a8" stroke="none">&#945;</tspan> gene expression</text>
<text transform="translate(502.3,109.5) rotate(-90)" font-size="11" fill="#111" stroke="#111" stroke-width="0.3" text-anchor="middle" textLength="113.1" lengthAdjust="spacing">(fold change <tspan font-style="italic">vs</tspan> CTRL)</text>
<rect x="530.7" y="244.1" width="30.4" height="51.3" fill="#e6e6e6"/>
<rect x="575.8" y="253.9" width="29.6" height="41.5" fill="#9dceff"/>
<rect x="621.1" y="268.8" width="29.4" height="26.6" fill="#fd8a8b"/>
<path d="M523.2,205.5V295.4H658.7" fill="none" stroke="#606060" stroke-width="1.3"/>
<path d="M520.8,295.4H523.2" stroke="#606060" stroke-width="1.2"/>
<text x="520.0" y="298.0" font-size="8.4" fill="#444" text-anchor="end" textLength="10.4" lengthAdjust="spacingAndGlyphs">0.0</text>
<path d="M520.8,272.9H523.2" stroke="#606060" stroke-width="1.2"/>
<text x="520.0" y="275.5" font-size="8.4" fill="#444" text-anchor="end" textLength="10.4" lengthAdjust="spacingAndGlyphs">0.5</text>
<path d="M520.8,250.4H523.2" stroke="#606060" stroke-width="1.2"/>
<text x="520.0" y="253.0" font-size="8.4" fill="#444" text-anchor="end" textLength="10.4" lengthAdjust="spacingAndGlyphs">1.0</text>
<path d="M520.8,228.0H523.2" stroke="#606060" stroke-width="1.2"/>
<text x="520.0" y="230.6" font-size="8.4" fill="#444" text-anchor="end" textLength="10.4" lengthAdjust="spacingAndGlyphs">1.5</text>
<path d="M520.8,205.5H523.2" stroke="#606060" stroke-width="1.2"/>
<text x="520.0" y="208.1" font-size="8.4" fill="#444" text-anchor="end" textLength="10.4" lengthAdjust="spacingAndGlyphs">2.0</text>
<path d="M538.4,231.2H553.4M545.9,231.2V256.2M538.4,256.2H553.4" stroke="#2a2a2a" stroke-width="1.05" fill="none"/>
<circle cx="545.9" cy="211.4" r="2.1" fill="#000"/>
<circle cx="545.9" cy="221.2" r="2.1" fill="#000"/>
<circle cx="545.9" cy="248.7" r="2.1" fill="#000"/>
<circle cx="545.9" cy="259.7" r="2.1" fill="#000"/>
<circle cx="545.9" cy="277.9" r="2.1" fill="#000"/>
<path d="M583.1,248.0H598.1M590.6,248.0V259.2M583.1,259.2H598.1" stroke="#2a2a2a" stroke-width="1.05" fill="none"/>
<circle cx="591.0" cy="230.7" r="2.1" fill="#000"/>
<circle cx="591.0" cy="240.5" r="2.1" fill="#000"/>
<circle cx="591.0" cy="246.4" r="2.1" fill="#000"/>
<circle cx="583.7" cy="260.9" r="2.1" fill="#000"/>
<circle cx="591.0" cy="260.9" r="2.1" fill="#000"/>
<circle cx="598.0" cy="260.9" r="2.1" fill="#000"/>
<circle cx="591.0" cy="273.3" r="2.1" fill="#000"/>
<path d="M628.3,266.2H643.3M635.8,266.2V270.9M628.3,270.9H643.3" stroke="#2a2a2a" stroke-width="1.05" fill="none"/>
<circle cx="632.3" cy="264.6" r="2.1" fill="#000"/>
<circle cx="639.3" cy="262.3" r="2.1" fill="#000"/>
<circle cx="632.3" cy="270.2" r="2.1" fill="#000"/>
<circle cx="639.3" cy="270.2" r="2.1" fill="#000"/>
<circle cx="632.3" cy="274.9" r="2.1" fill="#000"/>
<text x="545.9" y="308.3" font-size="11.3" fill="#1a1a1a" text-anchor="middle">CNT</text>
<text x="590.6" y="308.3" font-size="11.3" fill="#1a1a1a" text-anchor="middle">FS-R</text>
<text x="635.8" y="308.3" font-size="11.3" fill="#1a1a1a" text-anchor="middle">FS-V</text>
<text transform="translate(488.5,249.8) rotate(-90)" font-size="11" fill="#111" stroke="#111" stroke-width="0.3" text-anchor="middle" textLength="106.9" lengthAdjust="spacing">IL1<tspan fill="#a8a8a8" stroke="none">&#946;</tspan> gene expression</text>
<text transform="translate(502.0,249.8) rotate(-90)" font-size="11" fill="#111" stroke="#111" stroke-width="0.3" text-anchor="middle" textLength="113.1" lengthAdjust="spacing">(fold change <tspan font-style="italic">vs</tspan> CTRL)</text>
<rect x="537.2" y="403.9" width="29.7" height="33.8" fill="#e6e6e6"/>
<rect x="582.3" y="403.9" width="29.6" height="33.8" fill="#9dceff"/>
<rect x="627.6" y="399.2" width="29.9" height="38.4" fill="#fd8a8b"/>
<path d="M529.5,347.4V437.6H664.5" fill="none" stroke="#606060" stroke-width="1.3"/>
<path d="M527.1,437.6H529.5" stroke="#606060" stroke-width="1.2"/>
<text x="526.3" y="440.2" font-size="8.4" fill="#444" text-anchor="end" textLength="10.4" lengthAdjust="spacingAndGlyphs">0.0</text>
<path d="M527.1,419.6H529.5" stroke="#606060" stroke-width="1.2"/>
<text x="526.3" y="422.2" font-size="8.4" fill="#444" text-anchor="end" textLength="10.4" lengthAdjust="spacingAndGlyphs">0.5</text>
<path d="M527.1,401.5H529.5" stroke="#606060" stroke-width="1.2"/>
<text x="526.3" y="404.1" font-size="8.4" fill="#444" text-anchor="end" textLength="10.4" lengthAdjust="spacingAndGlyphs">1.0</text>
<path d="M527.1,383.5H529.5" stroke="#606060" stroke-width="1.2"/>
<text x="526.3" y="386.1" font-size="8.4" fill="#444" text-anchor="end" textLength="10.4" lengthAdjust="spacingAndGlyphs">1.5</text>
<path d="M527.1,365.4H529.5" stroke="#606060" stroke-width="1.2"/>
<text x="526.3" y="368.0" font-size="8.4" fill="#444" text-anchor="end" textLength="10.4" lengthAdjust="spacingAndGlyphs">2.0</text>
<path d="M527.1,347.4H529.5" stroke="#606060" stroke-width="1.2"/>
<text x="526.3" y="350.0" font-size="8.4" fill="#444" text-anchor="end" textLength="10.4" lengthAdjust="spacingAndGlyphs">2.5</text>
<path d="M544.5,399.7H559.5M552.0,399.7V406.7M544.5,406.7H559.5" stroke="#2a2a2a" stroke-width="1.05" fill="none"/>
<circle cx="551.9" cy="395.7" r="2.1" fill="#000"/>
<circle cx="548.4" cy="402.7" r="2.1" fill="#000"/>
<circle cx="555.4" cy="403.2" r="2.1" fill="#000"/>
<circle cx="551.9" cy="412.8" r="2.1" fill="#000"/>
<path d="M589.6,399.2H604.6M597.1,399.2V408.1M589.6,408.1H604.6" stroke="#2a2a2a" stroke-width="1.05" fill="none"/>
<circle cx="596.8" cy="396.2" r="2.1" fill="#000"/>
<circle cx="593.2" cy="402.7" r="2.1" fill="#000"/>
<circle cx="600.3" cy="403.2" r="2.1" fill="#000"/>
<circle cx="596.8" cy="416.3" r="2.1" fill="#000"/>
<path d="M635.0,396.2H650.0M642.5,396.2V402.7M635.0,402.7H650.0" stroke="#2a2a2a" stroke-width="1.05" fill="none"/>
<circle cx="642.3" cy="391.1" r="2.1" fill="#000"/>
<circle cx="638.8" cy="398.1" r="2.1" fill="#000"/>
<circle cx="645.8" cy="400.9" r="2.1" fill="#000"/>
<circle cx="642.3" cy="405.8" r="2.1" fill="#000"/>
<text x="552.0" y="450.5" font-size="11.3" fill="#1a1a1a" text-anchor="middle">CNT</text>
<text x="597.1" y="450.5" font-size="11.3" fill="#1a1a1a" text-anchor="middle">FS-R</text>
<text x="642.5" y="450.5" font-size="11.3" fill="#1a1a1a" text-anchor="middle">FS-V</text>
<text transform="translate(494.6,391.8) rotate(-90)" font-size="11" fill="#111" stroke="#111" stroke-width="0.3" text-anchor="middle" textLength="104.1" lengthAdjust="spacing">IL-6 gene expression</text>
<text transform="translate(508.1,391.8) rotate(-90)" font-size="11" fill="#111" stroke="#111" stroke-width="0.3" text-anchor="middle" textLength="113.1" lengthAdjust="spacing">(fold change <tspan font-style="italic">vs</tspan> CTRL)</text>
<rect x="537.7" y="554.9" width="29.2" height="45.5" fill="#e6e6e6"/>
<rect x="582.7" y="553.0" width="29.7" height="47.4" fill="#9dceff"/>
<rect x="627.8" y="562.4" width="29.7" height="38.0" fill="#fd8a8b"/>
<path d="M530.2,510.4V600.4H665.2" fill="none" stroke="#606060" stroke-width="1.3"/>
<path d="M527.8,600.4H530.2" stroke="#606060" stroke-width="1.2"/>
<text x="527.0" y="603.0" font-size="8.4" fill="#444" text-anchor="end" textLength="10.4" lengthAdjust="spacingAndGlyphs">0.0</text>
<path d="M527.8,577.9H530.2" stroke="#606060" stroke-width="1.2"/>
<text x="527.0" y="580.5" font-size="8.4" fill="#444" text-anchor="end" textLength="10.4" lengthAdjust="spacingAndGlyphs">0.5</text>
<path d="M527.8,555.4H530.2" stroke="#606060" stroke-width="1.2"/>
<text x="527.0" y="558.0" font-size="8.4" fill="#444" text-anchor="end" textLength="10.4" lengthAdjust="spacingAndGlyphs">1.0</text>
<path d="M527.8,532.9H530.2" stroke="#606060" stroke-width="1.2"/>
<text x="527.0" y="535.5" font-size="8.4" fill="#444" text-anchor="end" textLength="10.4" lengthAdjust="spacingAndGlyphs">1.5</text>
<path d="M527.8,510.4H530.2" stroke="#606060" stroke-width="1.2"/>
<text x="527.0" y="513.0" font-size="8.4" fill="#444" text-anchor="end" textLength="10.4" lengthAdjust="spacingAndGlyphs">2.0</text>
<path d="M544.8,549.5H559.8M552.3,549.5V560.7M544.8,560.7H559.8" stroke="#2a2a2a" stroke-width="1.05" fill="none"/>
<circle cx="552.4" cy="539.7" r="2.1" fill="#000"/>
<circle cx="548.9" cy="556.8" r="2.1" fill="#000"/>
<circle cx="555.9" cy="557.2" r="2.1" fill="#000"/>
<circle cx="552.4" cy="563.5" r="2.1" fill="#000"/>
<path d="M590.0,549.5H605.0M597.5,549.5V556.1M590.0,556.1H605.0" stroke="#2a2a2a" stroke-width="1.05" fill="none"/>
<circle cx="597.5" cy="542.7" r="2.1" fill="#000"/>
<circle cx="604.5" cy="540.4" r="2.1" fill="#000"/>
<circle cx="597.5" cy="546.7" r="2.1" fill="#000"/>
<circle cx="590.4" cy="553.7" r="2.1" fill="#000"/>
<circle cx="597.5" cy="554.9" r="2.1" fill="#000"/>
<circle cx="604.5" cy="555.4" r="2.1" fill="#000"/>
<circle cx="597.5" cy="563.5" r="2.1" fill="#000"/>
<circle cx="597.5" cy="567.7" r="2.1" fill="#000"/>
<path d="M635.1,560.3H650.1M642.6,560.3V564.2M635.1,564.2H650.1" stroke="#2a2a2a" stroke-width="1.05" fill="none"/>
<circle cx="638.8" cy="560.7" r="2.1" fill="#000"/>
<circle cx="645.8" cy="557.2" r="2.1" fill="#000"/>
<circle cx="642.3" cy="561.9" r="2.1" fill="#000"/>
<circle cx="642.3" cy="568.9" r="2.1" fill="#000"/>
<text x="552.3" y="613.3" font-size="11.3" fill="#1a1a1a" text-anchor="middle">CNT</text>
<text x="597.5" y="613.3" font-size="11.3" fill="#1a1a1a" text-anchor="middle">FS-R</text>
<text x="642.6" y="613.3" font-size="11.3" fill="#1a1a1a" text-anchor="middle">FS-V</text>
<text transform="translate(494.8,554.6) rotate(-90)" font-size="11" fill="#111" stroke="#111" stroke-width="0.3" text-anchor="middle" textLength="116.7" lengthAdjust="spacing">TGF-<tspan fill="#a8a8a8" stroke="none">&#946;</tspan> gene expression</text>
<text transform="translate(508.3,554.6) rotate(-90)" font-size="11" fill="#111" stroke="#111" stroke-width="0.3" text-anchor="middle" textLength="113.1" lengthAdjust="spacing">(fold change <tspan font-style="italic">vs</tspan> CTRL)</text>
</svg></body></html>
